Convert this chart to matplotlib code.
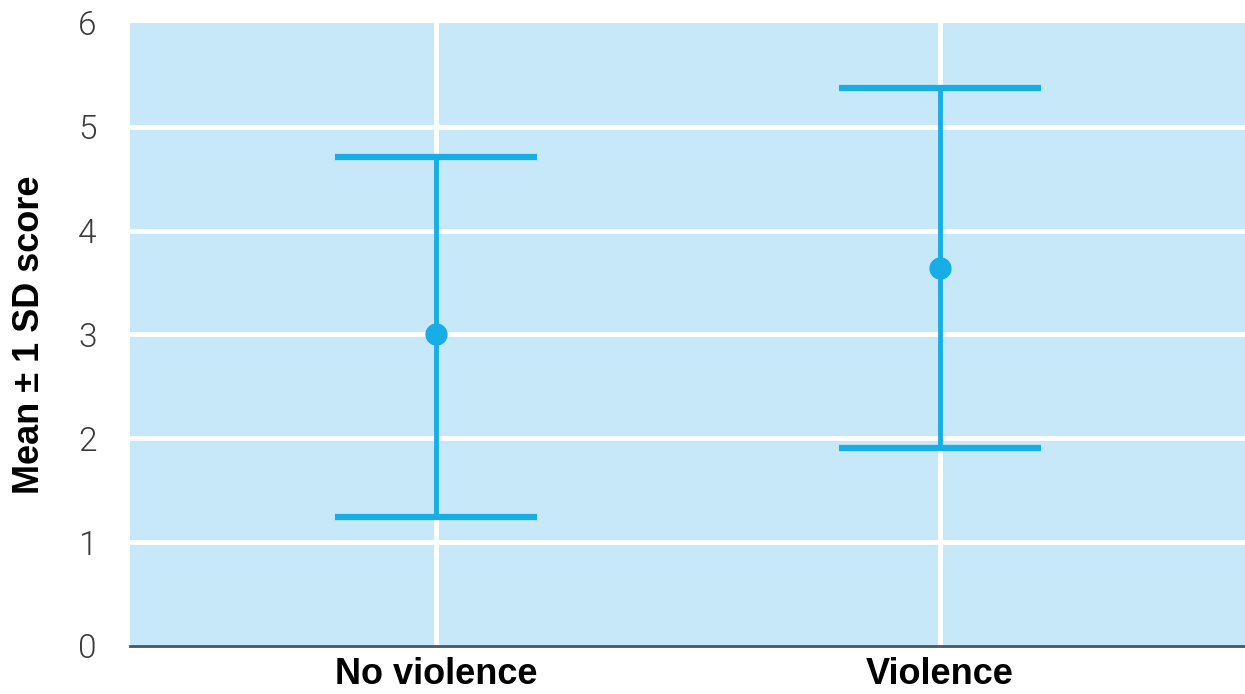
import matplotlib
matplotlib.use("Agg")
import matplotlib.pyplot as plt

# Group summaries: mean score and +/- 1 SD bounds
groups = ["No violence", "Violence"]
means = [3.0, 3.64]
upper = [4.71, 5.37]
lower = [1.24, 1.91]
y_ticks = [0, 1, 2, 3, 4, 5, 6]

line_color = "#17ade6"
panel_color = "#c6e8f8"

fig = plt.figure(figsize=(12.45, 6.94), dpi=100)
ax = fig.add_axes([0.1044, 0.0692, 0.8956, 0.8977])
ax.set_facecolor(panel_color)

x = list(range(len(groups)))
err_low = [m - lo for m, lo in zip(means, lower)]
err_high = [hi - m for m, hi in zip(means, upper)]

# white grid lines
for yv in y_ticks[1:-1]:
    ax.axhline(yv, color="white", lw=3.5, zorder=1)
for xv in x:
    ax.axvline(xv, color="white", lw=3.5, zorder=1)

ax.errorbar(x, means, yerr=[err_low, err_high], fmt="o", color=line_color,
            ms=15, elinewidth=3.5, capsize=73, capthick=4.5, zorder=3)

ax.set_xlim(-0.607, 1.605)
ax.set_ylim(0, 6)
ax.set_yticks(y_ticks)
ax.set_xticks(x)
ax.set_xticklabels(groups, fontsize=26, fontweight="bold", family="Liberation Sans")
ax.set_yticklabels([str(v) for v in y_ticks], fontsize=24, color="#3c3c3c",
                   family="Roboto", fontweight=300)
ax.tick_params(axis="both", length=0)
ax.tick_params(axis="y", pad=24)
ax.tick_params(axis="x", pad=8)

for side in ["top", "right", "left"]:
    ax.spines[side].set_visible(False)
ax.spines["bottom"].set_color("#4a5560")
ax.spines["bottom"].set_linewidth(2)

ax.set_ylabel("Mean ± 1 SD score", fontsize=26, fontweight="bold",
              family="Liberation Sans", labelpad=22)

fig.savefig("out.png", dpi=100)
